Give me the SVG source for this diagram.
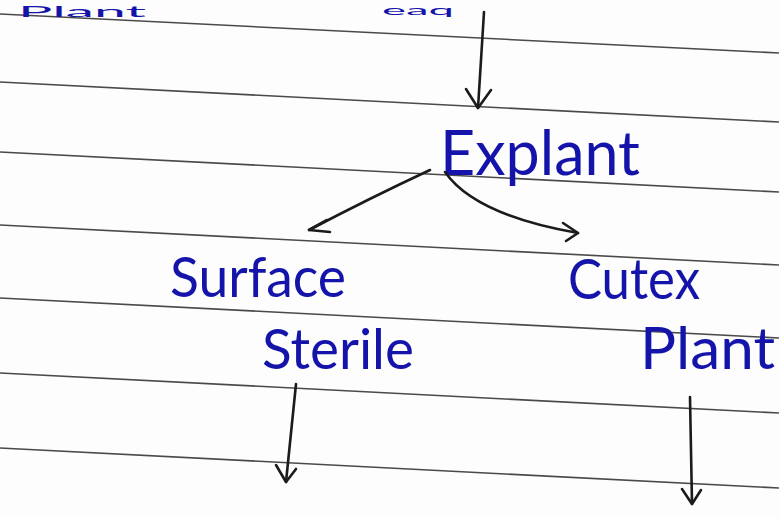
<svg xmlns="http://www.w3.org/2000/svg" width="779" height="518" viewBox="0 0 779 518">
  <style>
    .rule { stroke: #4a4a4a; stroke-width: 1.6; fill: none; }
    .ink { fill: #1414aa; font-family: Lato, "Open Sans", "Liberation Sans", sans-serif; font-weight: 400; }
    .pen { stroke: #1b1b1b; stroke-width: 2.6; fill: none; stroke-linecap: round; stroke-linejoin: round; }
  </style>
  <rect width="779" height="518" fill="#fdfdfd"/>

  <!-- ruled notebook lines, sloping slightly down to the right -->
  <g id="ruling">
    <path class="rule" d="M0 14 L779 53"/>
    <path class="rule" d="M0 82 L779 122"/>
    <path class="rule" d="M0 152 L779 192"/>
    <path class="rule" d="M0 225 L779 265"/>
    <path class="rule" d="M0 298 L779 338"/>
    <path class="rule" d="M0 373 L779 413"/>
    <path class="rule" d="M0 448 L779 488"/>
  </g>

  <!-- words along the top edge -->
  <g id="node-top-left">
    <text class="ink" x="18" y="17" font-size="15" textLength="128" lengthAdjust="spacingAndGlyphs">Plant</text>
  </g>
  <g id="node-top-centre">
    <text class="ink" x="382" y="15" font-size="14" textLength="72" lengthAdjust="spacingAndGlyphs">eaq</text>
  </g>

  <g id="node-explant">
    <text class="ink" x="440" y="175" font-size="62" textLength="200" lengthAdjust="spacingAndGlyphs">Explant</text>
  </g>

  <g id="node-surface-sterile">
    <text class="ink" x="170" y="297" font-size="56" textLength="176" lengthAdjust="spacingAndGlyphs">Surface</text>
    <text class="ink" x="262" y="369" font-size="56" textLength="152" lengthAdjust="spacingAndGlyphs">Sterile</text>
  </g>

  <g id="node-cutex-plant">
    <text class="ink" x="568" y="299" font-size="56" textLength="132" lengthAdjust="spacingAndGlyphs">Cutex</text>
    <text class="ink" x="640" y="369" font-size="58" textLength="135" lengthAdjust="spacingAndGlyphs">Plant</text>
  </g>

  <g id="connectors">
    <!-- into Explant -->
    <path class="pen" d="M484 12 L478 108"/>
    <path class="pen" d="M466 89 L478 108 L491 90"/>
    <!-- Explant to Surface Sterile -->
    <path class="pen" d="M430 170 Q370 198 309 230"/>
    <path class="pen" d="M327 220 L309 230 L330 232"/>
    <!-- Explant to Cutex Plant -->
    <path class="pen" d="M445 172 Q475 215 578 233"/>
    <path class="pen" d="M563 223 L578 233 L566 241"/>
    <!-- onward from Surface Sterile -->
    <path class="pen" d="M296 384 L286 482"/>
    <path class="pen" d="M276 465 L286 482 L296 469"/>
    <!-- onward from Cutex Plant -->
    <path class="pen" d="M690 397 L692 504"/>
    <path class="pen" d="M682 489 L692 504 L701 490"/>
  </g>
</svg>
